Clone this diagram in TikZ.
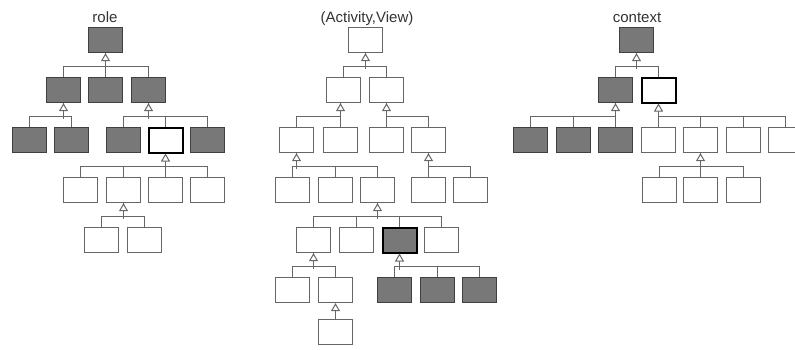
\documentclass[tikz,border=0pt]{standalone}
\usepackage{fontspec}
\setmainfont{Liberation Sans}
\usetikzlibrary{arrows.meta}

% parent, children; optional node gives the x of the stem
\newcommand\family[3][]{%
  \def\stemx{#2}\if\relax\detokenize{#1}\relax\else\def\stemx{#1}\fi
  \foreach \k in {#3} \draw[link] (\k.north) -- ++(0,-10) -| (\stemx.north |- #2.south);
  \draw[inh] (\stemx.north |- #2.south) ++(0,16) -- (\stemx.north |- #2.south);
}

\begin{document}
\begin{tikzpicture}[
  x=1pt, y=-1pt,
  font=\fontsize{15}{18}\selectfont,
  box/.style={rectangle, draw=black!60, line width=1.3pt, fill=white,
              minimum width=34pt, minimum height=25pt, inner sep=0pt},
  dbox/.style={box, fill=black!53, draw=black!75},
  hbox/.style={box, draw=black, line width=2pt},
  hdbox/.style={dbox, draw=black, line width=2pt},
  link/.style={draw=black!60, line width=1pt},
  inh/.style={link, -{Triangle[length=8pt,width=9pt,fill=white]}},
  ttl/.style={anchor=base, inner sep=0pt, text=black!80}
]
\useasboundingbox (0,0) rectangle (795,349);

% role
\node[ttl]  (trole) at (105,22)    {role};
\node[dbox] (r1)    at (105.5,40)  {};
\node[dbox] (r21)   at (63.5,90)   {};
\node[dbox] (r22)   at (105.5,90)  {};
\node[dbox] (r23)   at (148.5,90)  {};
\node[dbox] (r31)   at (29.5,140)  {};
\node[dbox] (r32)   at (71.5,140)  {};
\node[dbox] (r33)   at (123.5,140) {};
\node[hbox] (r34)   at (165.5,140) {};
\node[dbox] (r35)   at (207.5,140) {};
\node[box]  (r41)   at (80.5,190)  {};
\node[box]  (r42)   at (123.5,190) {};
\node[box]  (r43)   at (165.5,190) {};
\node[box]  (r44)   at (207.5,190) {};
\node[box]  (r51)   at (101.5,240) {};
\node[box]  (r52)   at (144.5,240) {};

\family{r1}{r21,r22,r23}
\family{r21}{r31,r32}
\family{r23}{r33,r34,r35}
\family{r34}{r41,r42,r43,r44}
\family{r42}{r51,r52}

% (Activity,View)
\node[ttl]   (tav) at (367,22)     {(Activity,View)};
\node[box]   (a1)  at (365.5,40)   {};
\node[box]   (a21) at (343.5,90)   {};
\node[box]   (a22) at (386.5,90)   {};
\node[box]   (a31) at (296.5,140)  {};
\node[box]   (a32) at (340.5,140)  {};
\node[box]   (a33) at (386.5,140)  {};
\node[box]   (a34) at (428.5,140)  {};
\node[box]   (a41) at (292.5,190)  {};
\node[box]   (a42) at (335.5,190)  {};
\node[box]   (a43) at (377.5,190)  {};
\node[box]   (a44) at (428.5,190)  {};
\node[box]   (a45) at (470.5,190)  {};
\node[box]   (a51) at (313.5,240)  {};
\node[box]   (a52) at (356.5,240)  {};
\node[hdbox] (a53) at (399.5,240)  {};
\node[box]   (a54) at (441.5,240)  {};
\node[box]   (a61) at (292.5,290)  {};
\node[box]   (a62) at (335.5,290)  {};
\node[dbox]  (a63) at (394.5,290)  {};
\node[dbox]  (a64) at (437.5,290)  {};
\node[dbox]  (a65) at (479.5,290)  {};
\node[box]   (a7)  at (335.5,332)  {};

\family{a1}{a21,a22}
\family[a32]{a21}{a31,a32}
\family{a22}{a33,a34}
\family{a31}{a41,a42,a43}
\family{a34}{a44,a45}
\family{a43}{a51,a52,a53,a54}
\family{a51}{a61,a62}
\family{a53}{a63,a64,a65}
\draw[inh] (a7.north) -- (a62.south);

% context
\node[ttl]  (tctx) at (637,22)     {context};
\node[dbox] (c1)   at (636.5,40)   {};
\node[dbox] (c21)  at (615.5,90)   {};
\node[hbox] (c22)  at (658.5,90)   {};
\node[dbox] (c31)  at (530.5,140)  {};
\node[dbox] (c32)  at (573.5,140)  {};
\node[dbox] (c33)  at (615.5,140)  {};
\node[box]  (c34)  at (658.5,140)  {};
\node[box]  (c35)  at (700.5,140)  {};
\node[box]  (c36)  at (743.5,140)  {};
\node[box]  (c37)  at (785.5,140)  {};
\node[box]  (c41)  at (659.5,190)  {};
\node[box]  (c42)  at (700.5,190)  {};
\node[box]  (c43)  at (743.5,190)  {};

\family{c1}{c21,c22}
\family{c21}{c31,c32,c33}
\family{c22}{c34,c35,c36,c37}
\family{c35}{c41,c42,c43}
\end{tikzpicture}
\end{document}
